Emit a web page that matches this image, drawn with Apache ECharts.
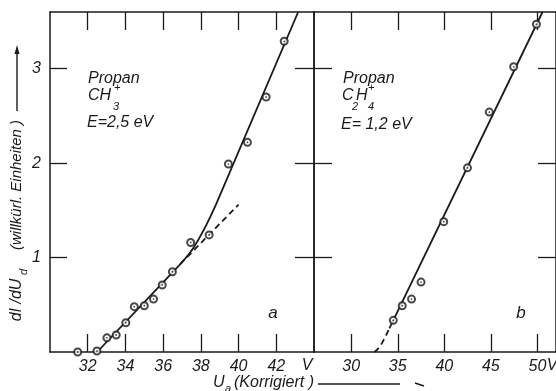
<!DOCTYPE html>
<html>
<head>
<meta charset="utf-8">
<script src="https://cdn.jsdelivr.net/npm/echarts@6/dist/echarts.min.js"></script>
<style>
  html, body { margin: 0; padding: 0; background: #fff; }
  #chart { width: 556px; height: 391px; }
</style>
</head>
<body>
<div id="chart"></div>
<script>
// panel a: CH3+
const aPtX = [31.47, 32.49, 33.02, 33.51, 34.02, 34.47, 35.0, 35.49, 35.95, 36.49, 37.46, 38.44, 39.46, 40.47, 41.46, 42.42];
const aPtY = [0.0, 0.01, 0.15, 0.18, 0.31, 0.48, 0.49, 0.56, 0.71, 0.85, 1.16, 1.24, 1.99, 2.22, 2.70, 3.29];
const aSolidX = [32.5, 37.0, 37.3, 37.6, 37.9, 38.2, 38.5, 38.8, 43.16];
const aSolidY = [0.0, 0.95, 1.02, 1.10, 1.20, 1.31, 1.43, 1.56, 3.6];
const aDashX = [36.9, 40.0];
const aDashY = [0.93, 1.56];

// panel b: C2H4+
const bPtX = [34.52, 35.48, 36.48, 37.5, 39.94, 42.49, 44.83, 47.45, 49.9];
const bPtY = [0.335, 0.49, 0.56, 0.74, 1.38, 1.95, 2.54, 3.02, 3.47];
const bSolidX = [34.1, 50.55];
const bSolidY = [0.25, 3.6];
const bDashX = [32.5, 33.0, 33.5, 34.1];
const bDashY = [0.0, 0.05, 0.13, 0.25];

const aTicks = [32, 34, 36, 38, 40, 42];
const bTicks = [30, 35, 40, 45, 50];
const yTicks = [1, 2, 3];

const ink = '#1a1a1a';
const fam = 'Liberation Sans, DejaVu Sans, sans-serif';

const zip = (xs, ys) => xs.map((x, i) => [x, ys[i]]);

function xAx(grid, min, max, ticks, pos, labels) {
  return {
    type: 'value', gridIndex: grid, position: pos, min: min, max: max,
    axisLine: { onZero: false, lineStyle: { color: ink, width: 1.5 } },
    axisTick: { inside: true, length: 18, customValues: ticks, lineStyle: { color: ink, width: 1.3 } },
    axisLabel: { show: labels, customValues: ticks, margin: 7, color: ink, fontStyle: 'italic', fontSize: 16, fontFamily: fam },
    splitLine: { show: false }
  };
}
function yAx(grid, pos, labels, len) {
  return {
    type: 'value', gridIndex: grid, position: pos, min: 0, max: 3.6,
    axisLine: { onZero: false, lineStyle: { color: ink, width: 1.5 } },
    axisTick: { inside: true, length: len, customValues: yTicks, lineStyle: { color: ink, width: 1.3 } },
    axisLabel: { show: labels, customValues: yTicks, margin: 9, color: ink, fontStyle: 'italic', fontSize: 16, fontFamily: fam },
    splitLine: { show: false }
  };
}
function pts(xi, yi, data) {
  return [
    { type: 'scatter', xAxisIndex: xi, yAxisIndex: yi, data: data, symbol: 'emptyCircle', symbolSize: 7,
      itemStyle: { color: ink, borderColor: ink, borderWidth: 1.1 }, z: 5 },
    { type: 'scatter', xAxisIndex: xi, yAxisIndex: yi, data: data, symbol: 'circle', symbolSize: 1.8,
      itemStyle: { color: ink }, z: 6 }
  ];
}
function line(xi, yi, data, dashed, smooth) {
  return { type: 'line', xAxisIndex: xi, yAxisIndex: yi, data: data, showSymbol: false, smooth: smooth,
    lineStyle: { color: ink, width: 1.8, type: dashed ? [6, 4] : 'solid' }, z: 4 };
}
function txt(x, y, s, size, align) {
  return { type: 'text', x: x, y: y, style: { text: s, font: 'italic ' + size + 'px ' + fam, fill: ink,
    textAlign: align || 'left', textVerticalAlign: 'middle' } };
}

const chart = echarts.init(document.getElementById('chart'), null, { renderer: 'canvas' });

chart.setOption({
  backgroundColor: '#fff',
  animation: false,
  grid: [
    { left: 50, top: 12, width: 264, height: 340 },
    { left: 314, top: 12, width: 244, height: 340 }
  ],
  xAxis: [
    xAx(0, 30, 44, aTicks, 'bottom', true),
    xAx(0, 30, 44, aTicks, 'top', false),
    xAx(1, 26, 52, bTicks, 'bottom', true),
    xAx(1, 26, 52, bTicks, 'top', false)
  ],
  yAxis: [
    yAx(0, 'left', true, 17),
    yAx(0, 'right', false, 19),
    yAx(1, 'left', false, 18),
    yAx(1, 'right', false, 18)
  ],
  series: [
    line(0, 0, zip(aSolidX, aSolidY), false, false),
    line(0, 0, zip(aDashX, aDashY), true, false),
    ...pts(0, 0, zip(aPtX, aPtY)),
    line(2, 2, zip(bSolidX, bSolidY), false, false),
    line(2, 2, zip(bDashX, bDashY), true, true),
    ...pts(2, 2, zip(bPtX, bPtY))
  ],
  graphic: [
    txt(88, 79, 'Propan', 16),
    txt(88, 96, 'CH', 16),
    txt(113, 107, '3', 11),
    txt(114, 88, '+', 11),
    txt(87, 123, 'E=2,5 eV', 16),
    txt(343, 79, 'Propan', 16),
    txt(342, 96, 'C', 16),
    txt(352, 107, '2', 11),
    txt(356, 96, 'H', 16),
    txt(368, 107, '4', 11),
    txt(368, 88, '+', 11),
    txt(341, 125, 'E= 1,2 eV', 16),
    txt(273, 313, 'a', 17, 'center'),
    txt(521, 313, 'b', 17, 'center'),
    txt(307, 366, 'V', 16, 'center'),
    txt(552, 366, 'V', 16, 'center'),
    // x title
    txt(213, 383, 'U', 16),
    txt(225, 389, 'a', 11),
    txt(234, 383, '(Korrigiert )', 16),
    { type: 'line', shape: { x1: 318, y1: 384, x2: 400, y2: 384 }, style: { stroke: ink, lineWidth: 1.4 } },
    { type: 'line', shape: { x1: 415, y1: 383, x2: 424, y2: 386 }, style: { stroke: ink, lineWidth: 1.4 } },
    // y title, rotated
    { type: 'text', x: 17, y: 185, rotation: Math.PI / 2,
      style: { text: '(willkürl. Einheiten )', font: 'italic 15px ' + fam, fill: ink, textAlign: 'center', textVerticalAlign: 'middle' } },
    { type: 'text', x: 17, y: 300, rotation: Math.PI / 2,
      style: { text: 'dI /dU', font: 'italic 16px ' + fam, fill: ink, textAlign: 'center', textVerticalAlign: 'middle' } },
    { type: 'text', x: 24, y: 272, rotation: Math.PI / 2,
      style: { text: 'd', font: 'italic 11px ' + fam, fill: ink, textAlign: 'center', textVerticalAlign: 'middle' } },
    { type: 'line', shape: { x1: 17, y1: 111, x2: 17, y2: 52 }, style: { stroke: ink, lineWidth: 1.4 } },
    { type: 'polygon', shape: { points: [[17, 45], [14.5, 54], [19.5, 54]] }, style: { fill: ink } }
  ]
});
</script>
</body>
</html>
